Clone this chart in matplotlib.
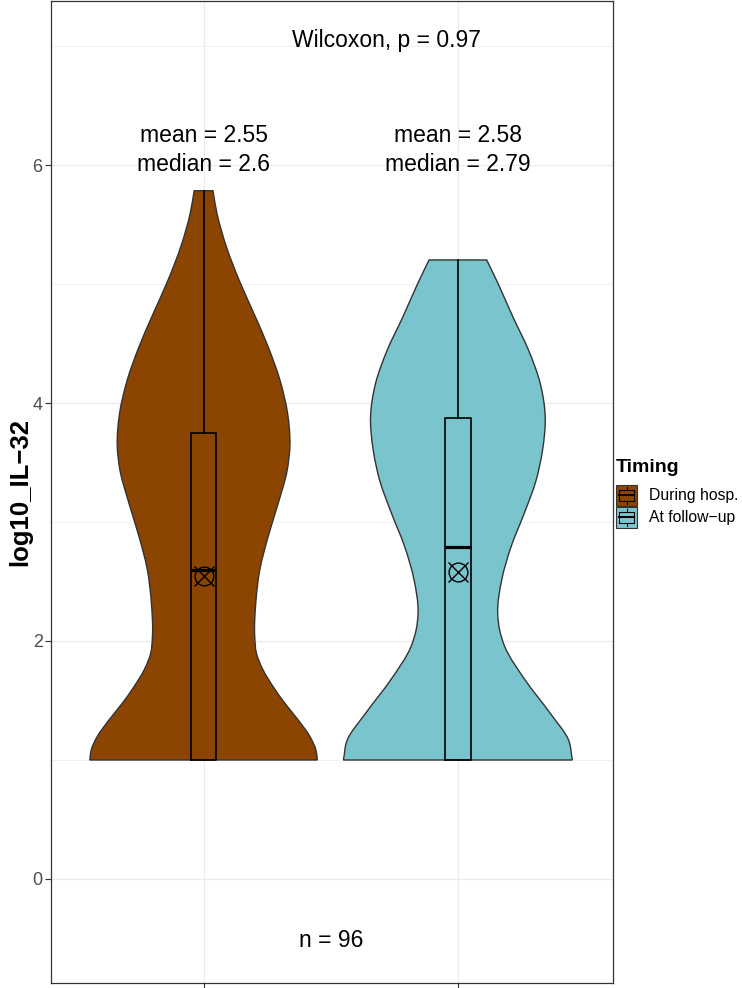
import matplotlib
matplotlib.use("Agg")
import matplotlib.pyplot as plt
from matplotlib.path import Path
from matplotlib.patches import PathPatch, Rectangle
import numpy as np

plt.rcParams['font.family'] = ['Liberation Sans', 'DejaVu Sans']

# groups
groups = ["During hosp.", "At follow\u2212up"]
colors = ["#8B4500", "#7AC5CD"]

# violin outline: y levels and relative density
viol_y = [
    [1.0, 1.084, 1.196, 1.336, 1.476, 1.616, 1.756, 1.897, 2.036, 2.317,
     2.597, 2.877, 3.157, 3.437, 3.633, 3.913, 4.193, 4.473, 4.754, 5.034,
     5.314, 5.594, 5.784],
    [1.0, 1.168, 1.392, 1.672, 1.952, 2.092, 2.233, 2.513, 2.793, 3.073,
     3.339, 3.605, 3.885, 4.166, 4.445, 4.725, 5.006, 5.202],
]
viol_dens = [
    [0.994, 0.982, 0.930, 0.827, 0.711, 0.608, 0.520, 0.462, 0.447, 0.456,
     0.491, 0.564, 0.652, 0.731, 0.754, 0.734, 0.667, 0.564, 0.439, 0.310,
     0.199, 0.117, 0.082],
    [1.0, 0.967, 0.807, 0.588, 0.41, 0.365, 0.348, 0.383, 0.465, 0.58,
     0.68, 0.74, 0.763, 0.719, 0.617, 0.48, 0.35, 0.252],
]

# box plot stats
q1 = [1.0, 1.0]
medians = [2.6, 2.79]
q3 = [3.75, 3.87]
whis_lo = [1.0, 1.0]
whis_hi = [5.78, 5.20]
means = [2.55, 2.58]

mean_labels = ["mean = 2.55", "mean = 2.58"]
median_labels = ["median = 2.6", "median = 2.79"]
test_label = "Wilcoxon, p = 0.97"
n_label = "n = 96"
y_ticks = [0, 2, 4, 6]


def side_verts(xs, ys):
    # cubic hermite in y through the read points, as bezier pieces
    xs = np.asarray(xs, dtype=float)
    ys = np.asarray(ys, dtype=float)
    m = np.gradient(xs, ys)
    out = []
    for i in range(len(xs) - 1):
        dy = ys[i + 1] - ys[i]
        out += [(xs[i] + m[i] * dy / 3, ys[i] + dy / 3),
                (xs[i + 1] - m[i + 1] * dy / 3, ys[i + 1] - dy / 3),
                (xs[i + 1], ys[i + 1])]
    return out


def violin_patch(center, ys, dens, half, color):
    hw = np.asarray(dens) * half
    ys = np.asarray(ys)
    lv = side_verts(center - hw, ys)
    rv = side_verts((center + hw)[::-1], ys[::-1])
    start = (center - hw[0], ys[0])
    verts = [start] + lv + [(center + hw[-1], ys[-1])] + rv + [start]
    codes = ([Path.MOVETO] + [Path.CURVE4] * len(lv) + [Path.LINETO]
             + [Path.CURVE4] * len(rv) + [Path.CLOSEPOLY])
    return PathPatch(Path(verts, codes), facecolor=color, edgecolor="#333333",
                     lw=1.0, zorder=2)


fig = plt.figure(figsize=(7.42, 9.88), dpi=100)
ax = fig.add_axes([51 / 742, 1 - 983 / 988, (613 - 51) / 742, (983 - 1.5) / 988])

pos = [1, 2]
for i in range(2):
    ax.add_patch(violin_patch(pos[i], viol_y[i], viol_dens[i], 0.45, colors[i]))

stats = [dict(med=medians[i], q1=q1[i], q3=q3[i], whislo=whis_lo[i],
              whishi=whis_hi[i], fliers=[]) for i in range(2)]
ax.bxp(stats, positions=pos, widths=0.1, showfliers=False, showcaps=False,
       boxprops=dict(color="black", lw=1.2),
       whiskerprops=dict(color="black", lw=1.2),
       medianprops=dict(color="black", lw=2.3),
       manage_ticks=False, zorder=3)

ax.plot(pos, means, "o", mfc="none", mec="black", ms=13.5, mew=1.0, zorder=4)
ax.plot(pos, means, "x", color="black", ms=15, mew=1.0, zorder=4)

for i in range(2):
    ax.text(pos[i], 6.19, mean_labels[i], ha="center", va="baseline", fontsize=16.5)
    ax.text(pos[i], 5.95, median_labels[i], ha="center", va="baseline", fontsize=16.5)
ax.text(1.72, 6.995, test_label, ha="center", va="baseline", fontsize=16.5)
ax.text(1.5, -0.57, n_label, ha="center", va="baseline", fontsize=16.5)

ax.set_xlim(0.4, 2.61)
ax.set_ylim(-0.874, 7.374)
ax.set_xticks(pos)
ax.set_xticklabels(["", ""])
ax.set_yticks(y_ticks)
ax.set_yticklabels([str(t) for t in y_ticks])
ax.set_yticks([1, 3, 5, 7], minor=True)
ax.tick_params(axis="both", which="major", length=4, width=0.8, color="#333333",
               labelsize=13, labelcolor="#4D4D4D", pad=2)
ax.tick_params(axis="y", which="minor", length=0)
ax.set_axisbelow(True)
ax.grid(True, which="major", color="#EBEBEB", lw=0.8)
ax.grid(True, which="minor", axis="y", color="#EBEBEB", lw=0.5)
for s in ax.spines.values():
    s.set_color("#333333")
    s.set_linewidth(0.9)

# overlay in pixel coords for axis title and legend
ov = fig.add_axes([0, 0, 1, 1])
ov.set_xlim(0, 742)
ov.set_ylim(988, 0)
ov.axis("off")
ov.patch.set_visible(False)

ov.text(20, 492, "log10_IL\u221232", rotation=90, ha="center", va="center",
        fontsize=18.5, fontweight="bold")

ov.text(616, 471.7, "Timing", ha="left", va="baseline", fontsize=14, fontweight="bold")
key_w, key_h = 21, 21.5
for i in range(2):
    kx, ky = 616, 484.5 + i * (key_h + 0.5)
    ov.add_patch(Rectangle((kx, ky), key_w, key_h, facecolor=colors[i],
                           edgecolor="#333333", lw=0.8))
    ov.add_patch(Rectangle((kx + 0.125 * key_w, ky + 0.25 * key_h), 0.75 * key_w,
                           0.5 * key_h, facecolor="none", edgecolor="black", lw=0.8))
    ov.plot([kx + 0.125 * key_w, kx + 0.875 * key_w], [ky + 0.5 * key_h] * 2,
            color="black", lw=1.4)
    ov.plot([kx + key_w / 2] * 2, [ky + 0.1 * key_h, ky + 0.25 * key_h], color="black", lw=0.8)
    ov.plot([kx + key_w / 2] * 2, [ky + 0.75 * key_h, ky + 0.9 * key_h], color="black", lw=0.8)
    ov.text(649, ky + key_h / 2, groups[i], ha="left", va="center", fontsize=11.3)

fig.savefig("out.png", dpi=100)
